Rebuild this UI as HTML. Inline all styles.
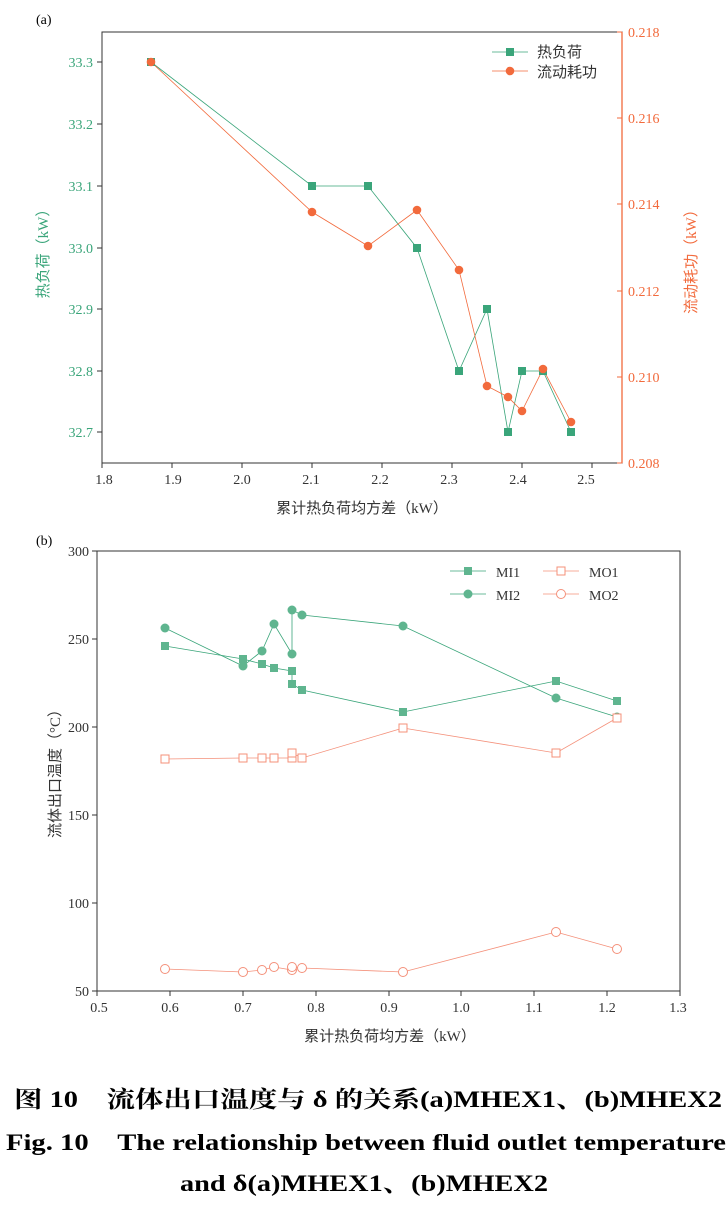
<!DOCTYPE html>
<html><head><meta charset="utf-8"><style>
body{margin:0;background:#fff;width:728px;height:1208px;overflow:hidden}
svg{display:block}
.t{font-family:"Liberation Serif","Noto Serif CJK SC",serif;font-size:14px}
.c{font-family:"Liberation Serif","Noto Sans CJK SC",sans-serif;font-size:15px}
.cap{font-family:"Liberation Serif","Noto Serif CJK SC",serif;font-size:23px;font-weight:bold}
</style></head><body>
<svg width="728" height="1208" viewBox="0 0 728 1208">
<!-- Chart a -->
<text x="36" y="24" class="t" font-size="15">(a)</text>
<rect x="102" y="32" width="520" height="431" fill="none" stroke="#333" stroke-width="1"/>
<line x1="622" y1="32" x2="622" y2="463" stroke="#f26a3c" stroke-width="1.3"/>
<g stroke="#333">
<line x1="102" y1="463" x2="102" y2="468"/><line x1="172" y1="463" x2="172" y2="468"/><line x1="242" y1="463" x2="242" y2="468"/><line x1="312" y1="463" x2="312" y2="468"/><line x1="382" y1="463" x2="382" y2="468"/><line x1="452" y1="463" x2="452" y2="468"/><line x1="522" y1="463" x2="522" y2="468"/><line x1="592" y1="463" x2="592" y2="468"/>
<line x1="97" y1="62" x2="102" y2="62"/><line x1="97" y1="124" x2="102" y2="124"/><line x1="97" y1="186" x2="102" y2="186"/><line x1="97" y1="248" x2="102" y2="248"/><line x1="97" y1="309" x2="102" y2="309"/><line x1="97" y1="371" x2="102" y2="371"/><line x1="97" y1="432" x2="102" y2="432"/>
</g>
<g stroke="#f26a3c"><line x1="617" y1="32" x2="622" y2="32"/><line x1="617" y1="118" x2="622" y2="118"/><line x1="617" y1="204" x2="622" y2="204"/><line x1="617" y1="291" x2="622" y2="291"/><line x1="617" y1="377" x2="622" y2="377"/><line x1="617" y1="463" x2="622" y2="463"/></g>
<g class="t" fill="#333" text-anchor="middle">
<text x="104" y="484">1.8</text><text x="173" y="484">1.9</text><text x="242" y="484">2.0</text><text x="311" y="484">2.1</text><text x="380" y="484">2.2</text><text x="449" y="484">2.3</text><text x="518" y="484">2.4</text><text x="586" y="484">2.5</text>
</g>
<g class="t" fill="#3aa57a" text-anchor="end">
<text x="93" y="67">33.3</text><text x="93" y="129">33.2</text><text x="93" y="191">33.1</text><text x="93" y="253">33.0</text><text x="93" y="314">32.9</text><text x="93" y="376">32.8</text><text x="93" y="437">32.7</text>
</g>
<g class="t" fill="#f26a3c">
<text x="628" y="37">0.218</text><text x="628" y="123">0.216</text><text x="628" y="209">0.214</text><text x="628" y="296">0.212</text><text x="628" y="382">0.210</text><text x="628" y="468">0.208</text>
</g>
<text x="362" y="513" class="c" fill="#333" text-anchor="middle">累计热负荷均方差（kW）</text>
<text transform="translate(48,250) rotate(-90)" class="c" fill="#3aa57a" text-anchor="middle">热负荷（kW）</text>
<text transform="translate(696,258) rotate(-90)" class="c" fill="#f26a3c" text-anchor="middle">流动耗功（kW）</text>
<polyline fill="none" stroke="#3aa57a" stroke-width="0.8" points="151,62 312,186 368,186 417,248 459,371 487,309 508,432 522,371 543,371 571,432"/>
<polyline fill="none" stroke="#f26a3c" stroke-width="0.8" points="151,62 312,212 368,246 417,210 459,270 487,386 508,397 522,411 543,369 571,422"/>
<g fill="#3aa57a">
<rect x="147" y="58" width="8" height="8"/><rect x="308" y="182" width="8" height="8"/><rect x="364" y="182" width="8" height="8"/><rect x="413" y="244" width="8" height="8"/><rect x="455" y="367" width="8" height="8"/><rect x="483" y="305" width="8" height="8"/><rect x="504" y="428" width="8" height="8"/><rect x="518" y="367" width="8" height="8"/><rect x="539" y="367" width="8" height="8"/><rect x="567" y="428" width="8" height="8"/>
</g>
<g fill="#f26a3c">
<circle cx="151" cy="62" r="4.3"/><circle cx="312" cy="212" r="4.3"/><circle cx="368" cy="246" r="4.3"/><circle cx="417" cy="210" r="4.3"/><circle cx="459" cy="270" r="4.3"/><circle cx="487" cy="386" r="4.3"/><circle cx="508" cy="397" r="4.3"/><circle cx="522" cy="411" r="4.3"/><circle cx="543" cy="369" r="4.3"/><circle cx="571" cy="422" r="4.3"/>
</g>
<line x1="492" y1="52" x2="528" y2="52" stroke="#3aa57a" stroke-width="0.8"/><rect x="506" y="48" width="8" height="8" fill="#3aa57a"/>
<line x1="492" y1="71" x2="528" y2="71" stroke="#f26a3c" stroke-width="0.8"/><circle cx="510" cy="71" r="4.3" fill="#f26a3c"/>
<text x="537" y="57" class="c" fill="#333">热负荷</text>
<text x="537" y="77" class="c" fill="#333">流动耗功</text>

<!-- Chart b -->
<text x="36" y="545" class="t" font-size="15">(b)</text>
<rect x="97" y="551" width="583" height="440" fill="none" stroke="#333" stroke-width="1"/>
<g stroke="#333">
<line x1="97" y1="991" x2="97" y2="996"/><line x1="170" y1="991" x2="170" y2="996"/><line x1="243" y1="991" x2="243" y2="996"/><line x1="316" y1="991" x2="316" y2="996"/><line x1="389" y1="991" x2="389" y2="996"/><line x1="461" y1="991" x2="461" y2="996"/><line x1="534" y1="991" x2="534" y2="996"/><line x1="607" y1="991" x2="607" y2="996"/><line x1="680" y1="991" x2="680" y2="996"/>
<line x1="92" y1="551" x2="97" y2="551"/><line x1="92" y1="639" x2="97" y2="639"/><line x1="92" y1="727" x2="97" y2="727"/><line x1="92" y1="815" x2="97" y2="815"/><line x1="92" y1="903" x2="97" y2="903"/><line x1="92" y1="991" x2="97" y2="991"/>
</g>
<g class="t" fill="#333" text-anchor="middle">
<text x="99" y="1012">0.5</text><text x="170" y="1012">0.6</text><text x="243" y="1012">0.7</text><text x="316" y="1012">0.8</text><text x="389" y="1012">0.9</text><text x="461" y="1012">1.0</text><text x="534" y="1012">1.1</text><text x="607" y="1012">1.2</text><text x="678" y="1012">1.3</text>
</g>
<g class="t" fill="#333" text-anchor="end">
<text x="89" y="556">300</text><text x="89" y="644">250</text><text x="89" y="732">200</text><text x="89" y="820">150</text><text x="89" y="908">100</text><text x="89" y="996">50</text>
</g>
<text x="390" y="1041" class="c" fill="#333" text-anchor="middle">累计热负荷均方差（kW）</text>
<text transform="translate(60,770) rotate(-90)" class="c" fill="#333" text-anchor="middle">流体出口温度（°C）</text>
<polyline fill="none" stroke="#3aa57a" stroke-width="0.8" points="165,646 243,659 262,664 274,668 292,671 292,684 302,690 403,712 556,681 617,701"/>
<polyline fill="none" stroke="#3aa57a" stroke-width="0.8" points="165,628 243,666 262,651 274,624 292,654 292,610 302,615 403,626 556,698 617,717"/>
<polyline fill="none" stroke="#f4907a" stroke-width="0.8" points="165,759 243,758 262,758 274,758 292,758 292,753 302,758 403,728 556,753 617,718"/>
<polyline fill="none" stroke="#f4907a" stroke-width="0.8" points="165,969 243,972 262,970 274,967 292,970 292,967 302,968 403,972 556,932 617,949"/>
<g fill="#5fb58f">
<rect x="161" y="642" width="8" height="8"/><rect x="239" y="655" width="8" height="8"/><rect x="258" y="660" width="8" height="8"/><rect x="270" y="664" width="8" height="8"/><rect x="288" y="667" width="8" height="8"/><rect x="288" y="680" width="8" height="8"/><rect x="298" y="686" width="8" height="8"/><rect x="399" y="708" width="8" height="8"/><rect x="552" y="677" width="8" height="8"/><rect x="613" y="697" width="8" height="8"/>
<circle cx="165" cy="628" r="4.5"/><circle cx="243" cy="666" r="4.5"/><circle cx="262" cy="651" r="4.5"/><circle cx="274" cy="624" r="4.5"/><circle cx="292" cy="654" r="4.5"/><circle cx="292" cy="610" r="4.5"/><circle cx="302" cy="615" r="4.5"/><circle cx="403" cy="626" r="4.5"/><circle cx="556" cy="698" r="4.5"/><circle cx="617" cy="717" r="4.5"/>
</g>
<g fill="#fff" stroke="#f4907a" stroke-width="1">
<rect x="161" y="755" width="8" height="8"/><rect x="239" y="754" width="8" height="8"/><rect x="258" y="754" width="8" height="8"/><rect x="270" y="754" width="8" height="8"/><rect x="288" y="754" width="8" height="8"/><rect x="288" y="749" width="8" height="8"/><rect x="298" y="754" width="8" height="8"/><rect x="399" y="724" width="8" height="8"/><rect x="552" y="749" width="8" height="8"/><rect x="613" y="714" width="8" height="8"/>
<circle cx="165" cy="969" r="4.5"/><circle cx="243" cy="972" r="4.5"/><circle cx="262" cy="970" r="4.5"/><circle cx="274" cy="967" r="4.5"/><circle cx="292" cy="970" r="4.5"/><circle cx="292" cy="967" r="4.5"/><circle cx="302" cy="968" r="4.5"/><circle cx="403" cy="972" r="4.5"/><circle cx="556" cy="932" r="4.5"/><circle cx="617" cy="949" r="4.5"/>
</g>
<line x1="450" y1="571" x2="486" y2="571" stroke="#3aa57a" stroke-width="0.8"/><rect x="464" y="567" width="8" height="8" fill="#5fb58f"/>
<line x1="450" y1="594" x2="486" y2="594" stroke="#3aa57a" stroke-width="0.8"/><circle cx="468" cy="594" r="4.5" fill="#5fb58f"/>
<text x="496" y="577" class="t" font-size="16" fill="#333">MI1</text>
<text x="496" y="600" class="t" font-size="16" fill="#333">MI2</text>
<line x1="543" y1="571" x2="579" y2="571" stroke="#f4907a" stroke-width="0.8"/><rect x="557" y="567" width="8" height="8" fill="#fff" stroke="#f4907a"/>
<line x1="543" y1="594" x2="579" y2="594" stroke="#f4907a" stroke-width="0.8"/><circle cx="561" cy="594" r="4.5" fill="#fff" stroke="#f4907a"/>
<text x="589" y="577" class="t" font-size="16" fill="#333">MO1</text>
<text x="589" y="600" class="t" font-size="16" fill="#333">MO2</text>

<!-- Caption -->
<text x="14" y="1107" class="cap" textLength="708" lengthAdjust="spacingAndGlyphs">图 10　流体出口温度与 δ 的关系(a)MHEX1、(b)MHEX2</text>
<text x="6" y="1150" class="cap" textLength="720" lengthAdjust="spacingAndGlyphs">Fig. 10　The relationship between fluid outlet temperature</text>
<text x="180" y="1191" class="cap" textLength="368" lengthAdjust="spacingAndGlyphs">and δ(a)MHEX1、(b)MHEX2</text>
</svg>
</body></html>
